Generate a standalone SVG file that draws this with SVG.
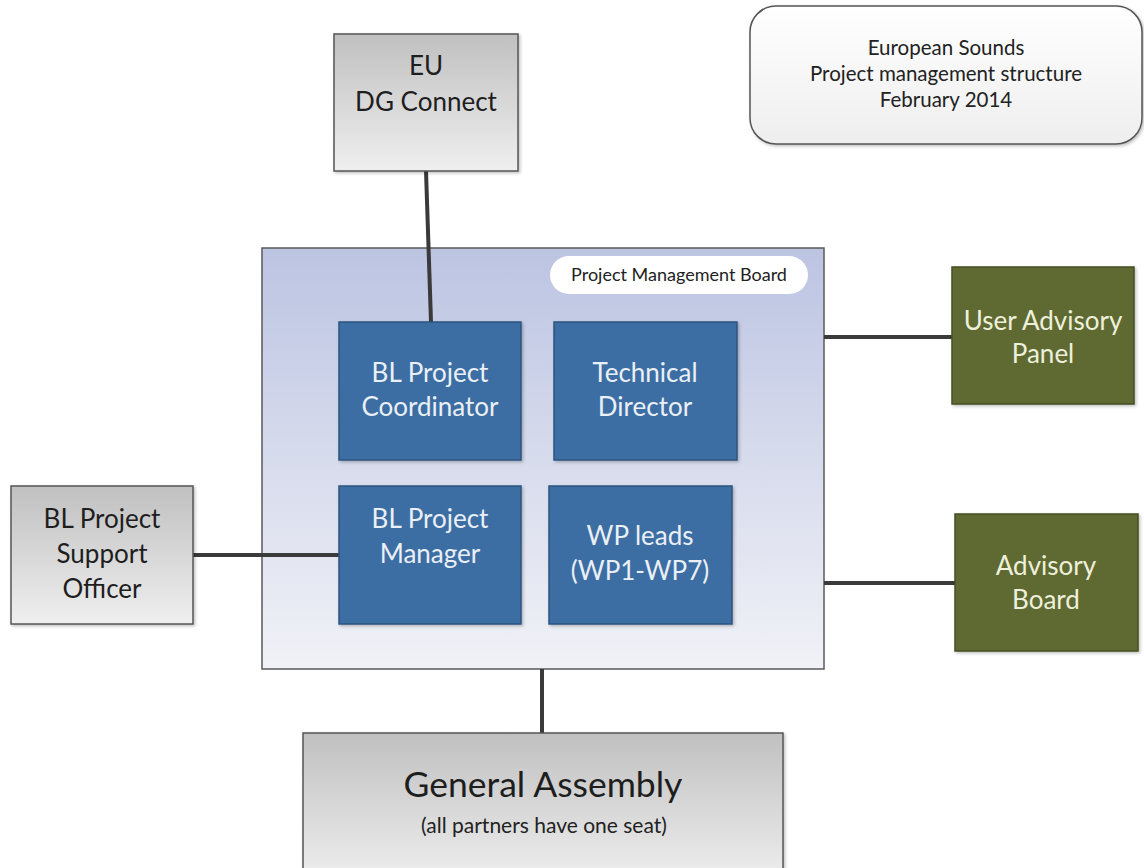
<svg xmlns="http://www.w3.org/2000/svg" width="1144" height="868" viewBox="0 0 1144 868">
  <defs>
    <linearGradient id="gray" x1="0" y1="0" x2="0" y2="1">
      <stop offset="0" stop-color="#c0c0c0"/>
      <stop offset="1" stop-color="#efefef"/>
    </linearGradient>
    <linearGradient id="board" x1="0" y1="0" x2="0" y2="1">
      <stop offset="0" stop-color="#bcc4e2"/>
      <stop offset="1" stop-color="#f1f2f7"/>
    </linearGradient>
    <linearGradient id="title" x1="0" y1="0" x2="0" y2="1">
      <stop offset="0" stop-color="#ffffff"/>
      <stop offset="1" stop-color="#eeeeee"/>
    </linearGradient>
    <filter id="shadow" x="-10%" y="-10%" width="120%" height="120%">
      <feDropShadow dx="1.5" dy="1.5" stdDeviation="1.5" flood-color="#000" flood-opacity="0.25"/>
    </filter>
  </defs>
  <style>
    text { font-family: Lato, "Open Sans", "Liberation Sans", sans-serif; text-anchor: middle; }
    .grey { fill: url(#gray); stroke: #555; stroke-width: 1.5; filter: url(#shadow); }
    .blue { fill: #3c6ea3; stroke: #2b5480; stroke-width: 1.5; filter: url(#shadow); }
    .olive { fill: #5e6a32; stroke: #454e22; stroke-width: 1.5; filter: url(#shadow); }
    .dark { fill: #1e1e1e; font-size: 26px; }
    .light { fill: #eaf0f6; font-size: 26px; }
    .pale { fill: #eef0dc; font-size: 26px; }
    .small { fill: #222; font-size: 20.5px; }
    .conn { stroke: #3a3a3a; stroke-width: 4; fill: none; }
  </style>
  <rect width="1144" height="868" fill="#ffffff"/>

  <!-- Title card -->
  <g id="title-card">
    <rect x="750" y="6" width="392" height="138" rx="26" ry="26" fill="url(#title)" stroke="#555" stroke-width="1.5" filter="url(#shadow)"/>
    <text class="small" x="946" y="55">European Sounds</text>
    <text class="small" x="946" y="81">Project management structure</text>
    <text class="small" x="946" y="107">February 2014</text>
  </g>

  <!-- Project Management Board container -->
  <g id="pmb">
    <rect x="262" y="248" width="562" height="421" fill="url(#board)" stroke="#5a5a5a" stroke-width="1.5"/>
    <rect x="550" y="256" width="258" height="38" rx="19" ry="19" fill="#ffffff"/>
    <text x="679" y="281" style="font-size:18px" fill="#222">Project Management Board</text>
  </g>

  <!-- Connectors -->
  <g id="connectors">
    <line class="conn" x1="426" y1="171" x2="431" y2="322"/>
    <line class="conn" x1="193" y1="555" x2="339" y2="555"/>
    <line class="conn" x1="824" y1="337" x2="952" y2="337"/>
    <line class="conn" x1="824" y1="583" x2="955" y2="583"/>
    <line class="conn" x1="542" y1="669" x2="542" y2="733"/>
  </g>

  <g id="eu">
    <rect class="grey" x="334" y="34" width="184" height="137"/>
    <text class="dark" x="426" y="75">EU</text>
    <text class="dark" x="426" y="111">DG Connect</text>
  </g>

  <g id="coordinator">
    <rect class="blue" x="339" y="322" width="182" height="138"/>
    <text class="light" x="430" y="382">BL Project</text>
    <text class="light" x="430" y="416">Coordinator</text>
  </g>

  <g id="technical">
    <rect class="blue" x="554" y="322" width="183" height="138"/>
    <text class="light" x="645" y="382">Technical</text>
    <text class="light" x="645" y="416">Director</text>
  </g>

  <g id="manager">
    <rect class="blue" x="339" y="486" width="182" height="138"/>
    <text class="light" x="430" y="528">BL Project</text>
    <text class="light" x="430" y="563">Manager</text>
  </g>

  <g id="wp-leads">
    <rect class="blue" x="549" y="486" width="183" height="138"/>
    <text class="light" x="640" y="545">WP leads</text>
    <text class="light" x="640" y="580">(WP1-WP7)</text>
  </g>

  <g id="support-officer">
    <rect class="grey" x="11" y="486" width="182" height="138"/>
    <text class="dark" x="102" y="528">BL Project</text>
    <text class="dark" x="102" y="563">Support</text>
    <text class="dark" x="102" y="598">Officer</text>
  </g>

  <g id="user-advisory">
    <rect class="olive" x="952" y="267" width="182" height="137"/>
    <text class="pale" x="1043" y="330">User Advisory</text>
    <text class="pale" x="1043" y="363">Panel</text>
  </g>

  <g id="advisory-board">
    <rect class="olive" x="955" y="514" width="183" height="137"/>
    <text class="pale" x="1046" y="575">Advisory</text>
    <text class="pale" x="1046" y="609">Board</text>
  </g>

  <g id="general-assembly">
    <rect class="grey" x="303" y="733" width="480" height="150"/>
    <text x="543" y="797" style="font-size:35.5px" fill="#1e1e1e">General Assembly</text>
    <text x="544" y="833" style="font-size:21px" fill="#222">(all partners have one seat)</text>
  </g>
</svg>
